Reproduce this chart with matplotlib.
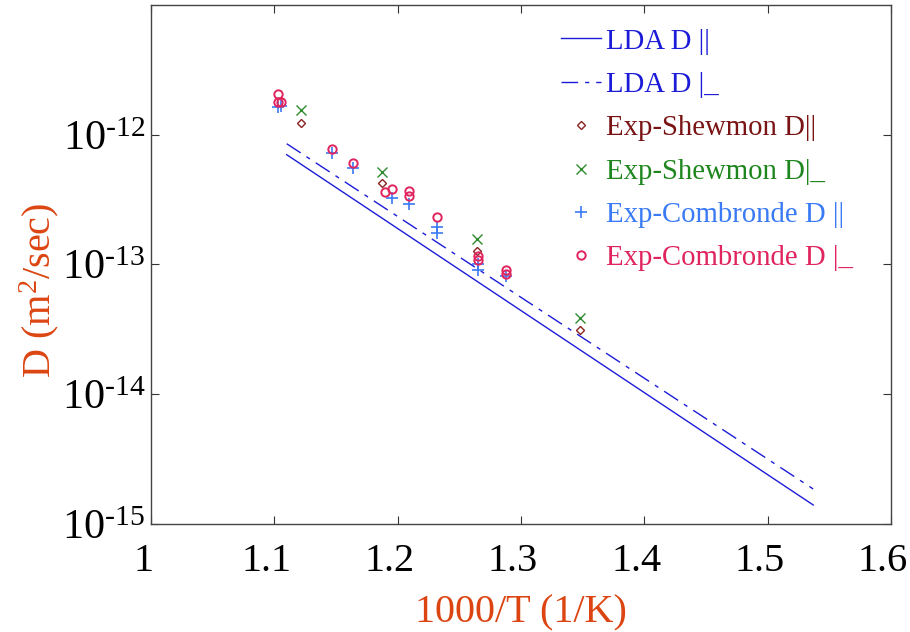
import matplotlib
matplotlib.use("Agg")
import matplotlib.pyplot as plt
import matplotlib.transforms as mtransforms

# ---- data ----
lda_par_x = [1.110, 1.537]
lda_par_D = [7.02e-13, 1.40e-15]
lda_perp_x = [1.110, 1.537]
lda_perp_D = [8.53e-13, 1.86e-15]

shew_par_x = [1.1214, 1.1876, 1.264, 1.348]
shew_par_D = [1.24e-12, 4.27e-13, 1.26e-13, 3.10e-14]
shew_perp_x = [1.1214, 1.1876, 1.264, 1.348]
shew_perp_D = [1.56e-12, 5.19e-13, 1.56e-13, 3.85e-14]

comb_par_x = [1.1028, 1.1052, 1.147, 1.164, 1.195, 1.209, 1.232, 1.232, 1.265, 1.265, 1.288]
comb_par_D = [1.64e-12, 1.66e-12, 7.3e-13, 5.5e-13, 3.23e-13, 2.94e-13, 1.93e-13, 1.76e-13, 1.00e-13, 9.1e-14, 8.1e-14]
comb_perp_x = [1.1028, 1.1028, 1.1052, 1.147, 1.164, 1.190, 1.195, 1.209, 1.209, 1.232, 1.265, 1.265, 1.288, 1.288]
comb_perp_D = [2.07e-12, 1.79e-12, 1.79e-12, 7.8e-13, 6.1e-13, 3.65e-13, 3.85e-13, 3.7e-13, 3.4e-13, 2.34e-13, 1.17e-13, 1.09e-13, 9.0e-14, 8.5e-14]

labels = ["LDA D ||", "LDA D |_", "Exp-Shewmon D||", "Exp-Shewmon D|_",
          "Exp-Combronde D ||", "Exp-Combronde D |_"]

xticks = [1.0, 1.1, 1.2, 1.3, 1.4, 1.5, 1.6]
xtick_labels = ["1", "1.1", "1.2", "1.3", "1.4", "1.5", "1.6"]
yticks = [1e-15, 1e-14, 1e-13, 1e-12]
ytick_labels = [r"$10^{\text{-}15}$", r"$10^{\text{-}14}$", r"$10^{\text{-}13}$", r"$10^{\text{-}12}$"]

# ---- style ----
plt.rcParams["font.family"] = ["Liberation Serif", "DejaVu Serif"]
plt.rcParams["mathtext.fontset"] = "custom"
plt.rcParams["mathtext.rm"] = "Liberation Serif"
plt.rcParams["mathtext.it"] = "Liberation Serif:italic"
plt.rcParams["mathtext.bf"] = "Liberation Serif:bold"
plt.rcParams["mathtext.default"] = "rm"

c_line = "#1c1cd8"
c_shew_par = "#8b2222"
c_shew_perp = "#2e8b2e"
c_comb_par = "#3a7af5"
c_comb_perp = "#e0245e"
c_label = "#dc4512"

fig = plt.figure(figsize=(9.1, 6.32), dpi=100)
ax = fig.add_axes([0.166, 0.171, 0.813, 0.821])

ax.plot(lda_par_x, lda_par_D, "-", color=c_line, lw=1.0, label=labels[0])
ax.plot(lda_perp_x, lda_perp_D, color=c_line, lw=1.0, dashes=(12, 5, 3, 5), label=labels[1])
ax.plot(shew_par_x, shew_par_D, "D", ls="none", ms=4.5, mfc="none", mec=c_shew_par, mew=1.0, label=labels[2])
ax.plot(shew_perp_x, shew_perp_D, "x", ls="none", ms=7, color=c_shew_perp, mew=1.0, label=labels[3])
ax.plot(comb_par_x, comb_par_D, "+", ls="none", ms=8, color=c_comb_par, mew=1.2, label=labels[4])
ax.plot(comb_perp_x, comb_perp_D, "o", ls="none", ms=6, mfc="none", mec=c_comb_perp, mew=1.4, label=labels[5])

ax.set_yscale("log")
ax.set_xlim(1.0, 1.6)
ax.set_ylim(1e-15, 1e-11)
ax.set_xticks(xticks)
ax.set_xticklabels(xtick_labels)
ax.set_yticks(yticks)
ax.set_yticklabels(ytick_labels)
ax.minorticks_off()
ax.yaxis.set_minor_locator(matplotlib.ticker.NullLocator())
ax.tick_params(direction="in", length=6, width=0.8, color="#333333",
               top=True, right=True)
ax.tick_params(axis="x", pad=14, labelsize=29)
ax.tick_params(axis="y", pad=4, labelsize=30.5)
shift = mtransforms.ScaledTranslation(-8 / 100, 0, fig.dpi_scale_trans)
for lab in ax.get_xticklabels():
    lab.set_transform(lab.get_transform() + shift)
for s in ax.spines.values():
    s.set_color("#444444")
    s.set_linewidth(1.0)

ax.set_xlabel("1000/T (1/K)", fontsize=29, color=c_label)
ax.xaxis.set_label_coords(0.5, -0.135)
ax.set_ylabel(r"D (m$^2$/sec)", fontsize=29, color=c_label)
ax.yaxis.set_label_coords(-0.122, 0.45)

leg = ax.legend(loc="upper left", bbox_to_anchor=(0.554, 0.955), frameon=False,
                fontsize=20.7, handlelength=1.39, handletextpad=0.17,
                labelspacing=0.6, borderpad=0, borderaxespad=0)
text_colors = [c_line, c_line, "#7a1414", "#1f861f", c_comb_par, c_comb_perp]
for t, c in zip(leg.get_texts(), text_colors):
    t.set_color(c)

fig.savefig("out.png", dpi=100)
